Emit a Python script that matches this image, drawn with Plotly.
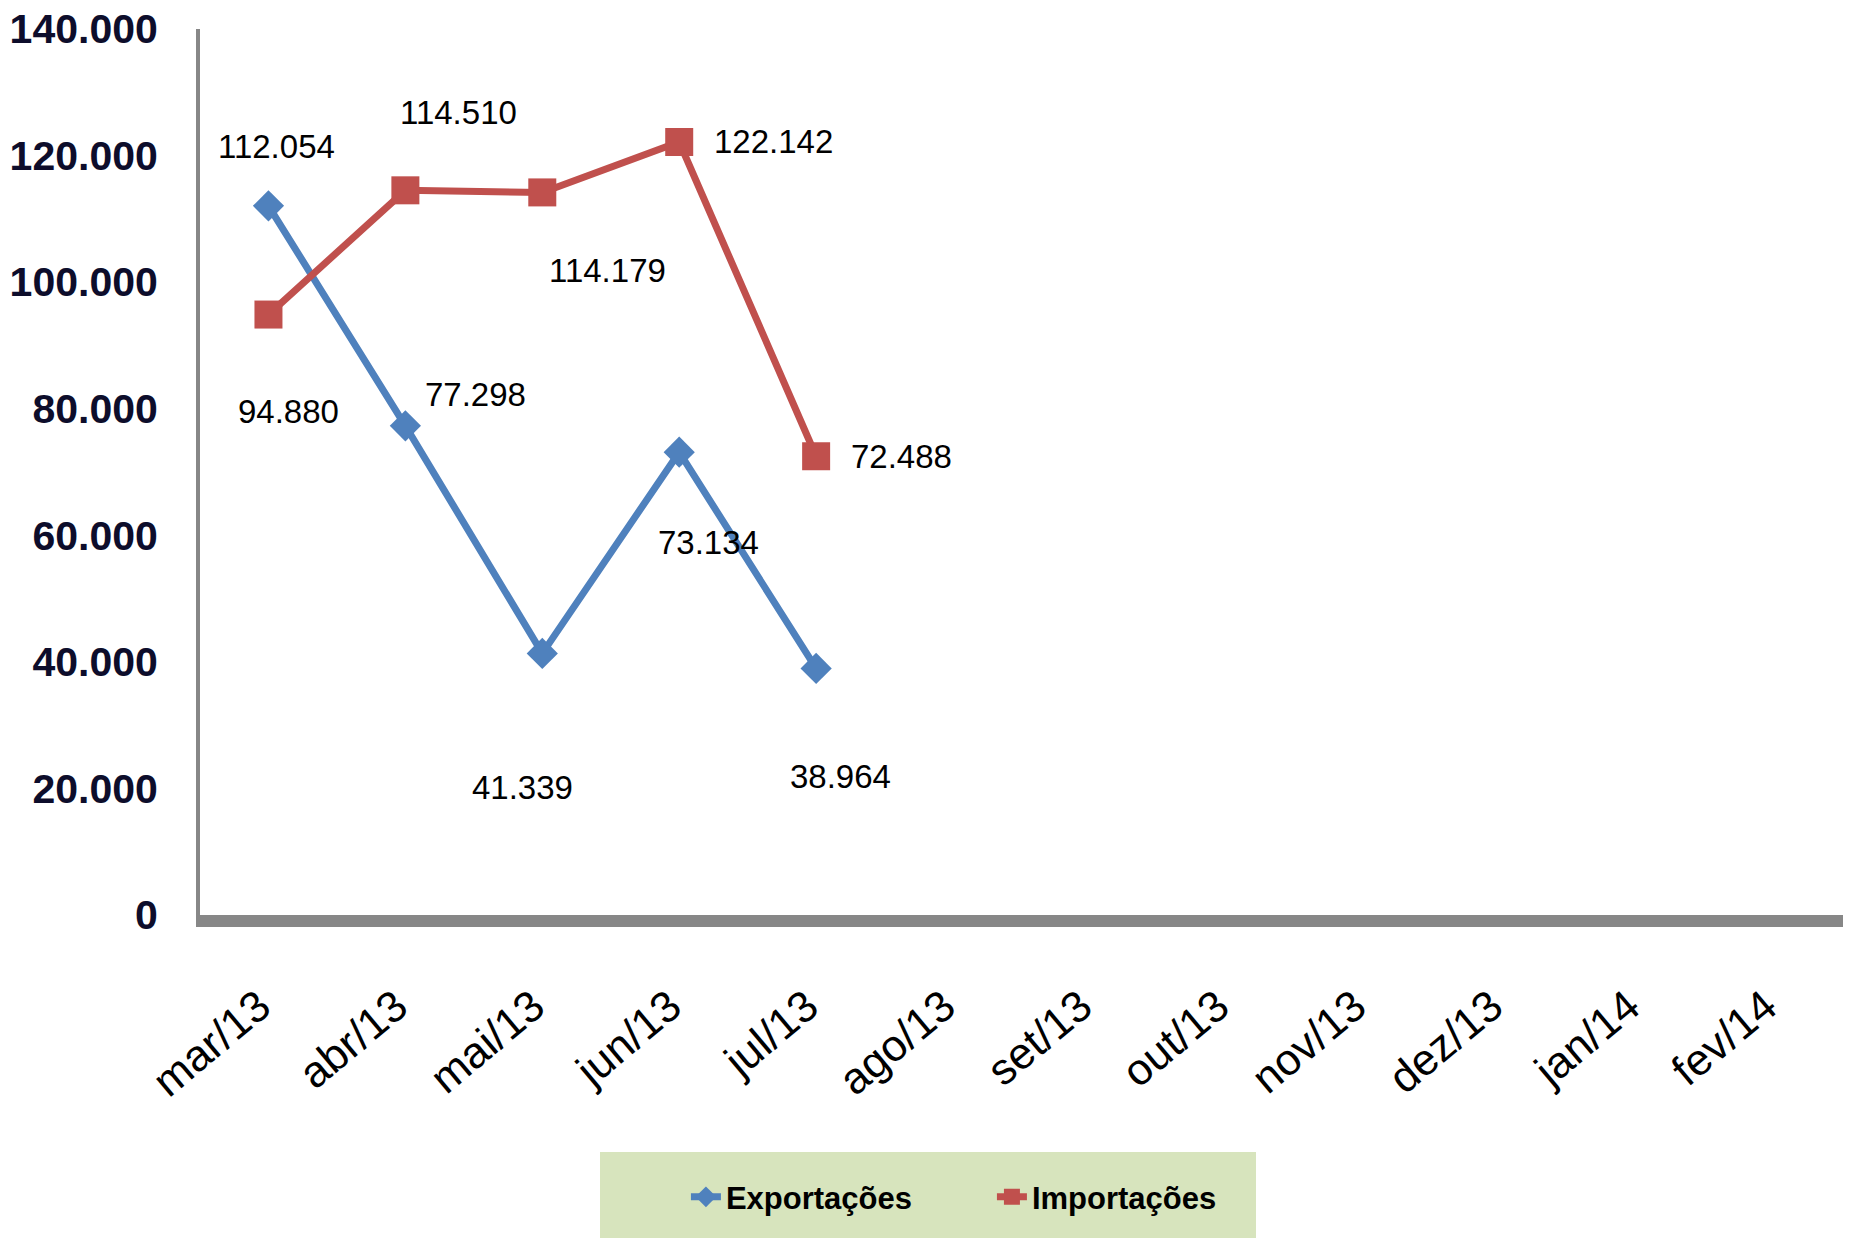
import plotly.graph_objects as go

months = ["mar/13", "abr/13", "mai/13", "jun/13", "jul/13", "ago/13",
          "set/13", "out/13", "nov/13", "dez/13", "jan/14", "fev/14"]
exportacoes = [112054, 77298, 41339, 73134, 38964]
importacoes = [94880, 114510, 114179, 122142, 72488]
y_ticks = [0, 20000, 40000, 60000, 80000, 100000, 120000, 140000]

BLUE = "#4F81BD"
RED = "#C0504D"
FONT = "Liberation Sans, Arial"


def fmt(v):
    # thousands separator as dot (pt-BR)
    return f"{v:,}".replace(",", ".")


fig = go.Figure()
fig.add_trace(go.Scatter(
    x=months[:len(exportacoes)], y=exportacoes, name="Exportações",
    mode="lines+markers",
    line=dict(color=BLUE, width=7),
    marker=dict(symbol="diamond", size=24, color=BLUE),
))
fig.add_trace(go.Scatter(
    x=months[:len(importacoes)], y=importacoes, name="Importações",
    mode="lines+markers",
    line=dict(color=RED, width=7),
    marker=dict(symbol="square", size=28, color=RED),
))

# label offsets (px) for each point, as placed in the original chart
exp_shift = [(8, 59), (70, 31), (-20, -134), (29, -90), (24, -108)]
imp_shift = [(20, -97), (53, 78), (65, -78), (94, 1), (85, 0)]

for vals, shifts in ((exportacoes, exp_shift), (importacoes, imp_shift)):
    for m, v, (dx, dy) in zip(months, vals, shifts):
        fig.add_annotation(x=m, y=v, text=fmt(v), showarrow=False,
                           xshift=dx, yshift=dy,
                           font=dict(family=FONT, size=33, color="#000000"))

# legend box
fig.add_shape(type="rect", xref="paper", yref="paper",
              x0=(600 - 200) / 1643, x1=(1256 - 200) / 1643,
              y0=-(1238 - 915) / 886, y1=-(1152 - 915) / 886,
              fillcolor="#D7E4BD", line=dict(width=0), layer="below")

fig.update_layout(
    width=1849, height=1240,
    margin=dict(l=200, r=6, t=29, b=325, autoexpand=False),
    plot_bgcolor="white", paper_bgcolor="white",
    showlegend=True,
    legend=dict(orientation="h", x=0.482, xanchor="center",
                y=-0.288, yanchor="top", bgcolor="rgba(0,0,0,0)",
                font=dict(family=FONT, size=31, color="#000000", weight="bold"),
                entrywidth=261, entrywidthmode="pixels"),
    xaxis=dict(
        automargin=False,
        categoryorder="array", categoryarray=months,
        range=[-0.5, len(months) - 0.5],
        tickmode="array", tickvals=months, ticktext=months,
        tickangle=-40, showgrid=False, zeroline=False,
        showline=True, linecolor="#878787", linewidth=12,
        ticks="outside", ticklen=36, tickcolor="rgba(0,0,0,0)",
        ticklabelshift=-9,
        tickfont=dict(family=FONT, size=44, color="#000000"),
    ),
    yaxis=dict(
        automargin=False, ticklabeloverflow="allow",
        range=[0, 140000], tickvals=y_ticks,
        ticktext=[fmt(v) for v in y_ticks],
        showgrid=False, zeroline=False,
        showline=True, linecolor="#878787", linewidth=4,
        ticks="outside", ticklen=30, tickcolor="rgba(0,0,0,0)",
        tickfont=dict(family=FONT, size=41, color="#0d0d2b", weight="bold"),
    ),
)

# drop the default 8px page margin so the figure fills the window
fig.write_html("out.html", config={"displayModeBar": False},
               post_script="document.body.style.margin='0';")
